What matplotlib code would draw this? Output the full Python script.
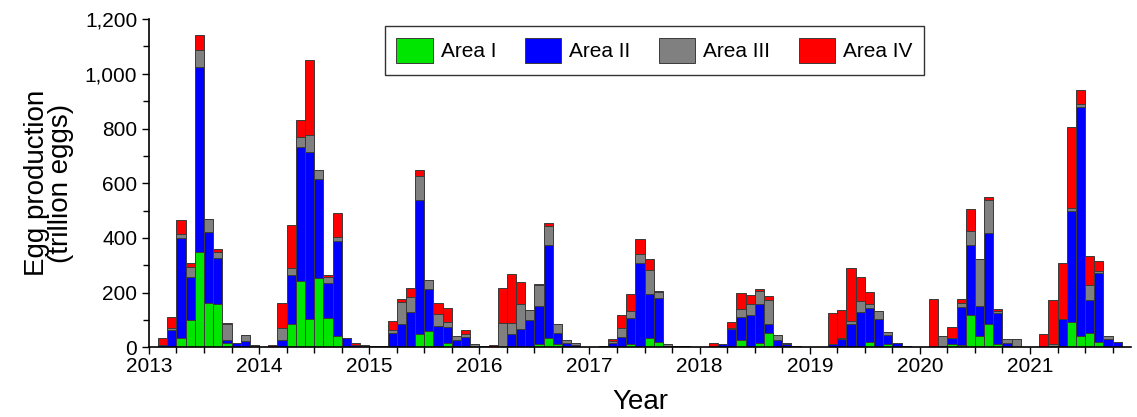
import numpy as np
import matplotlib
matplotlib.use("Agg")
import matplotlib.pyplot as plt
from matplotlib.ticker import MultipleLocator, FuncFormatter

plt.rcParams['font.family'] = ['Liberation Sans', 'DejaVu Sans']

years = [2013, 2014, 2015, 2016, 2017, 2018, 2019, 2020, 2021]

# monthly egg production (trillion eggs), Jan..Dec of each year
area1 = [0, 0, 0, 36, 101, 350, 164, 158, 16, 0, 0, 0,
         0, 0, 0, 86, 243, 103, 253, 107, 43, 0, 0, 0,
         0, 0, 0, 0, 0, 49, 60, 5, 15, 0, 0, 0,
         0, 0, 0, 0, 0, 0, 11, 36, 11, 0, 0, 0,
         0, 0, 0, 0, 12, 0, 33, 19, 7, 0, 0, 0,
         0, 0, 0, 0, 29, 0, 17, 54, 0, 5, 0, 0,
         0, 0, 0, 0, 0, 0, 19, 0, 12, 0, 0, 0,
         0, 0, 0, 12, 9, 118, 43, 85, 12, 0, 0, 0,
         0, 0, 0, 7, 94, 42, 54, 19, 0, 0, 0, 0]
area2 = [0, 10, 65, 363, 158, 675, 258, 169, 10, 15, 24, 0,
         0, 0, 28, 179, 490, 611, 361, 127, 345, 36, 9, 0,
         0, 0, 52, 85, 131, 491, 155, 72, 60, 26, 39, 0,
         0, 0, 0, 49, 67, 102, 142, 338, 41, 16, 8, 0,
         0, 0, 15, 38, 97, 307, 162, 162, 0, 7, 2, 0,
         0, 0, 12, 67, 83, 120, 142, 30, 27, 8, 2, 0,
         0, 0, 12, 30, 86, 130, 125, 105, 33, 15, 6, 0,
         0, 0, 7, 24, 140, 255, 109, 333, 114, 16, 0, 0,
         0, 0, 5, 96, 406, 836, 119, 252, 31, 21, 0, 0]
area3 = [0, 0, 8, 15, 36, 61, 49, 22, 61, 3, 22, 8,
         3, 2, 43, 26, 36, 64, 34, 24, 17, 0, 0, 8,
         4, 0, 11, 83, 54, 86, 30, 46, 19, 16, 9, 11,
         4, 0, 90, 39, 91, 34, 74, 69, 32, 11, 7, 3,
         2, 0, 9, 32, 23, 35, 88, 23, 7, 0, 2, 2,
         0, 0, 0, 5, 30, 38, 49, 91, 18, 5, 4, 0,
         0, 0, 0, 6, 12, 40, 16, 30, 10, 0, 0, 0,
         0, 0, 34, 0, 12, 52, 172, 122, 7, 16, 32, 0,
         0, 0, 7, 0, 8, 12, 57, 10, 10, 0, 0, 0]
area4 = [0, 26, 39, 50, 15, 54, 0, 10, 2, 0, 0, 0,
         0, 6, 92, 158, 63, 271, 0, 6, 86, 0, 9, 0,
         0, 5, 33, 9, 33, 24, 0, 38, 50, 0, 16, 0,
         0, 10, 129, 181, 80, 0, 4, 12, 2, 0, 0, 0,
         0, 6, 7, 47, 64, 55, 40, 2, 0, 0, 0, 0,
         0, 18, 0, 22, 57, 33, 4, 13, 0, 0, 0, 0,
         0, 0, 113, 101, 193, 88, 41, 0, 0, 0, 0, 0,
         0, 176, 0, 39, 17, 82, 0, 10, 6, 0, 0, 0,
         0, 50, 161, 204, 298, 49, 103, 35, 0, 0, 0, 0]

series = [("Area I", area1, "#00e600"),
          ("Area II", area2, "#0000ff"),
          ("Area III", area3, "#808080"),
          ("Area IV", area4, "#ff0000")]

t = years[0] + np.arange(len(area1)) / 12.0

fig = plt.figure(figsize=(11.37, 4.17), dpi=100)
ax = fig.add_axes([0.131, 0.1667, 0.8637, 0.7877])

bottom = np.zeros(len(t))
for name, vals, col in series:
    vals = np.array(vals, dtype=float)
    ax.bar(t, vals, width=1 / 12, bottom=bottom, align='edge', color=col,
           edgecolor='#3a3a3a', linewidth=0.7, label=name)
    bottom += vals

ax.set_xlim(2013, 2021 + 11 / 12)
ax.set_ylim(0, 1200)
ax.set_xticks(years)
ax.xaxis.set_minor_locator(MultipleLocator(0.25))
ax.yaxis.set_major_locator(MultipleLocator(200))
ax.yaxis.set_minor_locator(MultipleLocator(100))
ax.yaxis.set_major_formatter(FuncFormatter(lambda v, p: f"{v:,.0f}"))

for s in ['top', 'right']:
    ax.spines[s].set_visible(False)
for s in ['left', 'bottom']:
    ax.spines[s].set_linewidth(1.2)
ax.tick_params(axis='both', which='major', labelsize=15, length=5, width=1)
ax.tick_params(axis='both', which='minor', length=4, width=1)
ax.tick_params(axis='x', pad=2)

ax.set_xlabel("Year", fontsize=20, labelpad=9)
ax.set_ylabel("Egg production\n(trillion eggs)", fontsize=20, linespacing=0.9, labelpad=8)

leg = ax.legend(ncol=4, loc='upper left', bbox_to_anchor=(0.240, 0.978),
                fontsize=15, frameon=True, fancybox=False, edgecolor='black',
                handlelength=1.75, handleheight=1.5, columnspacing=1.35,
                borderaxespad=0, borderpad=0.55, handletextpad=0.4)
leg.get_frame().set_linewidth(1.0)

fig.savefig("out.png", dpi=100)
